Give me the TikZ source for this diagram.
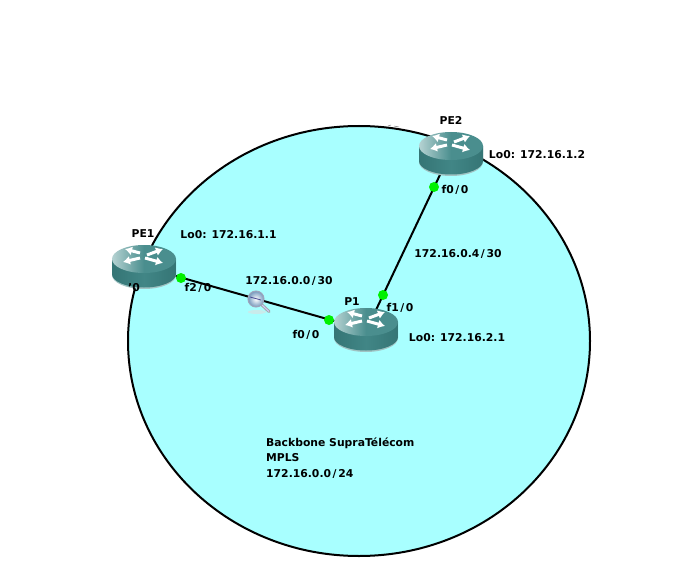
\documentclass[tikz,border=0pt]{standalone}
\usepackage{fontspec}
\setmainfont{DejaVu Sans}
\usetikzlibrary{shadings,arrows.meta}
\definecolor{cloudfill}{HTML}{A8FFFF}
\definecolor{rtop}{HTML}{4A8E8E}
\definecolor{rside}{HTML}{418686}
\definecolor{rdark}{HTML}{357575}
\definecolor{rlight}{HTML}{B5D2D2}
\definecolor{portgreen}{HTML}{00F000}
\newcommand{\slh}{\kern1.6pt/\kern1.6pt}
\tikzset{
  x=1pt,y=-1pt,
  wire/.style={line width=2pt,black},
  port/.style={circle,fill=portgreen,inner sep=0pt,minimum size=10pt},
  lab/.style={font=\fontsize{10.8}{12}\selectfont\bfseries,inner sep=0pt,text=black},
  hub/.style={inner sep=0pt,minimum width=64pt,minimum height=44pt},
  rarrow/.style={white,line width=3pt,-{Latex[length=7pt,width=9pt]}},
}
\newcommand{\routerdraw}[1]{%
  \begin{scope}[shift={(#1)}]
    \path[fill=rside!50!white]
      (-32,-8) -- (-32,8) arc[start angle=180,end angle=360,x radius=32pt,y radius=14pt] -- (32,-8) -- cycle;
    \path[left color=rdark,right color=rdark,middle color=rside]
      (-32,-8) -- (-32,7) arc[start angle=180,end angle=360,x radius=32pt,y radius=13.5pt] -- (32,-8) -- cycle;
    \path[left color=rlight,right color=rtop,middle color=rtop]
      (0,-8) ellipse[x radius=32pt,y radius=14pt];
    \draw[rarrow] (-4,-14) -- (-19,-18);
    \draw[rarrow] (3,-12) -- (19,-18);
    \draw[rarrow] (-4,-9) -- (-21,-5);
    \draw[rarrow] (1,-9) -- (19,-4);
  \end{scope}%
}
\begin{document}
\begin{tikzpicture}
\useasboundingbox (0,0) rectangle (698,588);
\fill[white] (0,0) rectangle (698,588);
\draw[fill=cloudfill,line width=2pt] (359,341) ellipse[x radius=231pt,y radius=215pt];
\draw[line width=.5pt,gray] (388,126) -- (391,125) (394,126) -- (399,127);

\node[hub] (PE1) at (144,267) {};
\node[hub] (P1) at (366,330) {};
\node[hub] (PE2) at (451,153) {};
\coordinate (PE2port) at (447,160);
\coordinate (P1port) at (366.5,330);

\draw[wire] (PE1.center) -- (P1.center);
\draw[wire] (P1port) -- (PE2port);

\routerdraw{144,267}
\routerdraw{366,330}
\routerdraw{451,154}

\node[port] (a) at (181,278) {};
\node[port] (b) at (329,320) {};
\node[port] (c) at (383,295) {};
\node[port] (d) at (434,187) {};

% magnifier
\fill[gray!25,opacity=.6] (257,312) ellipse[x radius=9pt,y radius=2pt];
\draw[line width=3pt,gray!70,line cap=round] (262,305) -- (269,311.5);
\draw[line width=1pt,white!80!blue] (262,305) -- (269,311.5);
\shade[inner color=white,outer color=cyan!50!blue!35!gray!80,draw=cyan!40!blue!30!gray!70,line width=1pt] (256,299) circle[radius=8pt];
\draw[line width=.8pt,black!60!blue!70] (250,297) -- (261,300);

\node[lab] at (143,234) {PE1};
\node[lab] at (228.5,235) {Lo0: 172.16.1.1};
\node[lab] at (198,288) {f2\slh0};
\node[lab] at (289,281) {172.16.0.0\slh30};
\node[lab] at (134,288) {'0};
\node[lab] at (352,302) {P1};
\node[lab] at (400,308) {f1\slh0};
\node[lab] at (306,335) {f0\slh0};
\node[lab] at (457,338) {Lo0: 172.16.2.1};
\node[lab] at (451,120) {PE2};
\node[lab] at (537,155) {Lo0: 172.16.1.2};
\node[lab] at (455,190) {f0\slh0};
\node[lab] at (458,254) {172.16.0.4\slh30};
\node[lab,anchor=base west] at (266,446) {Backbone SupraTélécom};
\node[lab,anchor=base west] at (266,461) {MPLS};
\node[lab,anchor=base west] at (266,477) {172.16.0.0\slh24};
\end{tikzpicture}
\end{document}
